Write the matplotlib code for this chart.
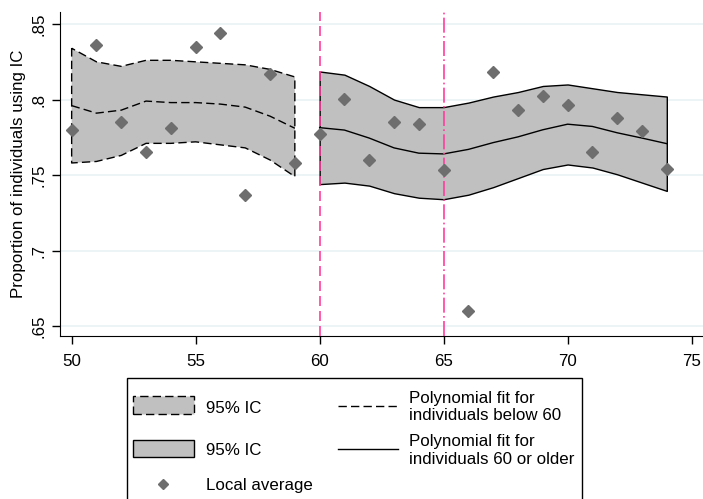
import numpy as np
import matplotlib.pyplot as plt
from matplotlib.patches import Rectangle
from matplotlib.lines import Line2D

plt.rcParams['font.family'] = ['Liberation Sans', 'DejaVu Sans']

# Local averages (one per age)
ages = np.arange(50, 75)
local_avg = [0.780, 0.836, 0.785, 0.7655, 0.781, 0.8345, 0.844, 0.7366, 0.817, 0.758,
             0.777, 0.8007, 0.760, 0.785, 0.784, 0.7532, 0.660, 0.818, 0.7934, 0.8025,
             0.7963, 0.7653, 0.788, 0.779, 0.7542]

# Fit below 60
x_lo = np.arange(50, 60)
fit_lo = [0.796, 0.791, 0.793, 0.799, 0.798, 0.798, 0.797, 0.795, 0.789, 0.781]
ci_lo_up = [0.834, 0.825, 0.822, 0.826, 0.826, 0.825, 0.824, 0.823, 0.820, 0.815]
ci_lo_dn = [0.758, 0.759, 0.763, 0.771, 0.771, 0.772, 0.770, 0.768, 0.760, 0.749]

# Fit 60 or older
x_hi = np.arange(60, 75)
fit_hi = [0.7814, 0.7798, 0.7745, 0.768, 0.7645, 0.764, 0.767, 0.7715, 0.7753, 0.780,
          0.7837, 0.7822, 0.778, 0.7745, 0.7708]
ci_hi_up = [0.8186, 0.8165, 0.809, 0.800, 0.795, 0.795, 0.798, 0.802, 0.805, 0.809,
            0.810, 0.8075, 0.805, 0.8035, 0.802]
ci_hi_dn = [0.744, 0.745, 0.743, 0.738, 0.735, 0.734, 0.737, 0.742, 0.748, 0.754,
            0.757, 0.755, 0.7505, 0.745, 0.7395]

band_col = '#c0c0c0'
pink = '#ff3e9e'
dot_col = '#6e6e6e'
dash = (0, (6, 3))
fs = 12.2
W, H = 703, 499

fig = plt.figure(figsize=(W / 100, H / 100), dpi=100)
ax = fig.add_axes([60 / W, 1 - 336 / H, 1 - 60 / W, (336 - 12) / H])

for y in [0.65, 0.7, 0.75, 0.8, 0.85]:
    ax.axhline(y, color='#eaf2f3', linewidth=1.2, zorder=0)

ax.fill_between(x_lo, ci_lo_dn, ci_lo_up, facecolor=band_col, edgecolor='black',
                linestyle=dash, linewidth=1.0, zorder=1)
ax.fill_between(x_hi, ci_hi_dn, ci_hi_up, facecolor=band_col, edgecolor='black',
                linewidth=1.0, zorder=1)
ax.plot(x_lo, fit_lo, color='black', linestyle=dash, linewidth=1.0, zorder=2)
ax.plot(x_hi, fit_hi, color='black', linewidth=1.0, zorder=2)

ax.axvline(60, color=pink, linestyle=(0, (6, 3)), linewidth=1.2, zorder=3)
ax.axvline(65, color=pink, linestyle=(0, (9, 2, 1, 2)), linewidth=1.2, zorder=3)

ax.plot(ages, local_avg, linestyle='none', marker='D', markersize=6.3,
        color=dot_col, zorder=4)

ax.set_xlim(49.53, 75.46)
ax.set_ylim(0.6434, 0.858)
ax.set_xticks([50, 55, 60, 65, 70, 75])
ax.set_yticks([0.65, 0.7, 0.75, 0.8, 0.85])
ax.set_yticklabels(['.65', '.7', '.75', '.8', '.85'], rotation=90, va='center')
ax.tick_params(axis='both', direction='out', length=6, width=1, labelsize=fs, colors='black')
ax.tick_params(axis='x', pad=7)
ax.spines['top'].set_visible(False)
ax.spines['right'].set_visible(False)
ax.set_ylabel('Proportion of individuals using IC', fontsize=fs, labelpad=4)


# legend drawn by hand so the two columns share rows (pixel positions)
def fx(px):
    return px / W


def fy(py):
    return 1 - py / H


tf = fig.transFigure
fig.add_artist(Rectangle((fx(127), fy(520)), fx(582) - fx(127), fy(378) - fy(520),
                         transform=tf, facecolor='white', edgecolor='black',
                         linewidth=1.0, clip_on=False))
fig.add_artist(Rectangle((fx(133), fy(414)), fx(194) - fx(133), fy(396) - fy(414),
                         transform=tf, facecolor=band_col, edgecolor='black',
                         linestyle=dash, linewidth=1.0))
fig.add_artist(Rectangle((fx(133), fy(457)), fx(194) - fx(133), fy(440) - fy(457),
                         transform=tf, facecolor=band_col, edgecolor='black',
                         linewidth=1.0))
fig.add_artist(Line2D([fx(163)], [fy(484)], transform=tf, linestyle='none',
                      marker='D', markersize=5, color=dot_col))
fig.add_artist(Line2D([fx(338), fx(398)], [fy(406), fy(406)], transform=tf,
                      color='black', linestyle=dash, linewidth=1.0))
fig.add_artist(Line2D([fx(338), fx(398)], [fy(449), fy(449)], transform=tf,
                      color='black', linewidth=1.0))

col1 = ['95% IC', '95% IC', 'Local average']
col1_base = [413, 455, 490]
for lab, b in zip(col1, col1_base):
    fig.text(fx(206), fy(b), lab, fontsize=fs, va='baseline', ha='left')

col2 = ['Polynomial fit for', 'individuals below 60',
        'Polynomial fit for', 'individuals 60 or older']
col2_base = [402.5, 420.5, 446, 464]
for lab, b in zip(col2, col2_base):
    fig.text(fx(409), fy(b), lab, fontsize=fs, va='baseline', ha='left')

fig.savefig('out.png', dpi=100)
